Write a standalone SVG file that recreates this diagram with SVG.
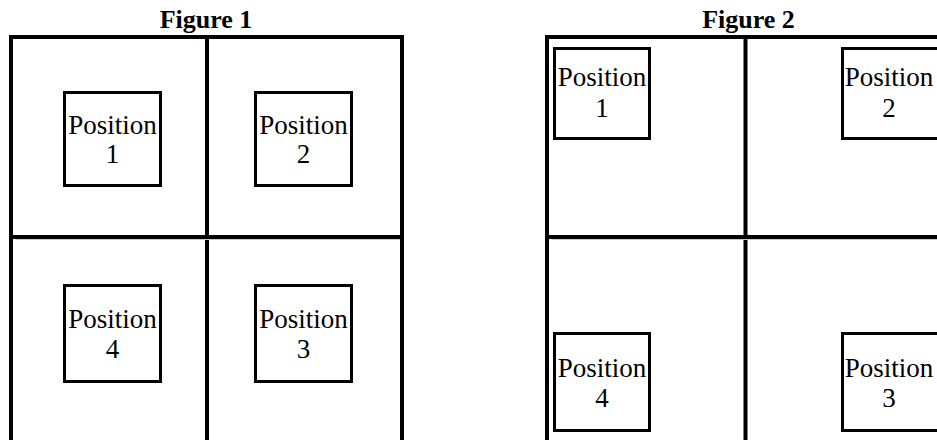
<svg xmlns="http://www.w3.org/2000/svg" width="937" height="440" viewBox="0 0 937 440">
<style>
.bg{fill:#fff}
.grid{stroke:#000;stroke-width:4;fill:none;stroke-linecap:square}
.box{fill:#fff;stroke:#000;stroke-width:3}
.lbl{font-family:"Liberation Serif","Times New Roman",serif;font-size:27px;fill:#000;text-anchor:middle}
.title{font-family:"Liberation Serif","Times New Roman",serif;font-size:26px;font-weight:bold;fill:#000;text-anchor:middle}
.ghost{stroke:#c8c8c8;stroke-width:1}
</style>
<rect class="bg" x="0" y="0" width="937" height="440"/>
<g id="connectors">
  <g id="fig1-grid">
    <path class="grid" d="M11,442 V37 H402 V442"/>
    <path class="grid" d="M207,37 V442"/>
    <path class="grid" d="M11,237 H402"/>
    <line class="ghost" x1="15" y1="239.5" x2="400" y2="239.5"/>
  </g>
  <g id="fig2-grid">
    <path class="grid" d="M547,442 V37 H940"/>
    <path class="grid" d="M745.5,37 V442"/>
    <path class="grid" d="M547,237 H940"/>
    <line class="ghost" x1="551" y1="239.5" x2="937" y2="239.5"/>
  </g>
</g>
<g id="title1"><text class="title" x="206" y="28">Figure 1</text></g>
<g id="title2"><text class="title" x="748.5" y="28">Figure 2</text></g>
<g id="f1-pos1">
  <rect class="box" x="64.5" y="92.5" width="96" height="93"/>
  <text class="lbl" x="112.5" y="134">Position</text>
  <text class="lbl" x="112.5" y="163">1</text>
</g>
<g id="f1-pos2">
  <rect class="box" x="255.5" y="92.5" width="96" height="93"/>
  <text class="lbl" x="303.5" y="134">Position</text>
  <text class="lbl" x="303.5" y="163">2</text>
</g>
<g id="f1-pos4">
  <rect class="box" x="64.5" y="285.5" width="96" height="96"/>
  <text class="lbl" x="112.5" y="328">Position</text>
  <text class="lbl" x="112.5" y="358">4</text>
</g>
<g id="f1-pos3">
  <rect class="box" x="255.5" y="285.5" width="96" height="96"/>
  <text class="lbl" x="303.5" y="328">Position</text>
  <text class="lbl" x="303.5" y="358">3</text>
</g>
<g id="f2-pos1">
  <rect class="box" x="554.5" y="48.5" width="95" height="90"/>
  <text class="lbl" x="602" y="86">Position</text>
  <text class="lbl" x="602" y="117">1</text>
</g>
<g id="f2-pos2">
  <rect class="box" x="842.5" y="48.5" width="96" height="90"/>
  <text class="lbl" x="889" y="86">Position</text>
  <text class="lbl" x="889" y="117">2</text>
</g>
<g id="f2-pos4">
  <rect class="box" x="554.5" y="333.5" width="95" height="97"/>
  <text class="lbl" x="602" y="377">Position</text>
  <text class="lbl" x="602" y="407">4</text>
</g>
<g id="f2-pos3">
  <rect class="box" x="842.5" y="333.5" width="96" height="97"/>
  <text class="lbl" x="889" y="377">Position</text>
  <text class="lbl" x="889" y="407">3</text>
</g>
</svg>
